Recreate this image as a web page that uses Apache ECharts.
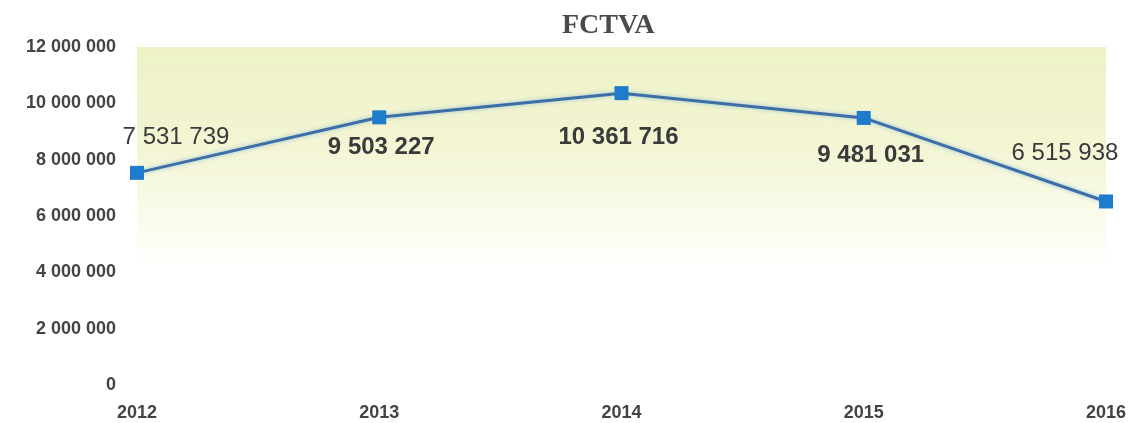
<!DOCTYPE html>
<html>
<head>
<meta charset="utf-8">
<script src="https://cdn.jsdelivr.net/npm/echarts@6/dist/echarts.min.js"></script>
<style>
  html, body { margin: 0; padding: 0; background: #fff; }
  #chart { width: 1129px; height: 423px; }
</style>
</head>
<body>
<div id="chart"></div>
<script>
// données FCTVA
var years = ['2012', '2013', '2014', '2015', '2016'];
var fctva = [7531739, 9503227, 10361716, 9481031, 6515938];
var yTicks = [0, 2000000, 4000000, 6000000, 8000000, 10000000, 12000000];

// label placement per point (offset from marker)
var labelOffsets = [[39, -35], [2, 30], [-3, 44], [7, 37], [-41, -48]];
var labelBold = [false, true, true, true, false];

function fmt(v) {
  return String(v).replace(/\B(?=(\d{3})+(?!\d))/g, ' ');
}

var chart = echarts.init(document.getElementById('chart'));

var option = {
  backgroundColor: '#fff',
  title: {
    text: 'FCTVA',
    left: 557,
    top: 7,
    textStyle: {
      fontFamily: 'Liberation Serif, Times New Roman, serif',
      fontWeight: 'bold',
      fontSize: 28,
      color: '#4a4a4a'
    }
  },
  grid: {
    left: 137,
    right: 22,
    top: 47,
    bottom: 38,
    show: true,
    borderWidth: 0,
    backgroundColor: new echarts.graphic.LinearGradient(0, 0, 0, 1, [
      { offset: 0, color: '#eef2c6' },
      { offset: 0.3, color: '#f3f5d4' },
      { offset: 0.5, color: '#fafbeb' },
      { offset: 0.66, color: '#ffffff' },
      { offset: 1, color: '#ffffff' }
    ])
  },
  xAxis: {
    type: 'category',
    data: years,
    boundaryGap: false,
    axisLine: { show: false },
    axisTick: { show: false },
    axisLabel: {
      margin: 19,
      fontFamily: 'Liberation Sans, Arial, sans-serif',
      fontWeight: 'bold',
      fontSize: 18,
      color: '#444'
    }
  },
  yAxis: {
    type: 'value',
    min: yTicks[0],
    max: yTicks[yTicks.length - 1],
    interval: 2000000,
    splitLine: { show: false },
    axisLine: { show: false },
    axisTick: { show: false },
    axisLabel: {
      margin: 21,
      fontFamily: 'Liberation Sans, Arial, sans-serif',
      fontWeight: 'bold',
      fontSize: 18,
      color: '#444',
      formatter: function (v) { return fmt(v); }
    }
  },
  series: [
    {
      name: 'FCTVA',
      type: 'line',
      data: fctva.map(function (v, i) {
        return {
          value: v,
          label: {
            offset: labelOffsets[i],
            fontWeight: labelBold[i] ? 'bold' : 'normal'
          }
        };
      }),
      symbol: 'rect',
      symbolSize: 14,
      lineStyle: {
        color: '#3d6fa6',
        width: 3,
        shadowColor: 'rgba(90,160,220,0.6)',
        shadowBlur: 4
      },
      itemStyle: {
        color: '#1f7ccc'
      },
      label: {
        show: true,
        position: 'inside',
        fontFamily: 'Liberation Sans, Arial, sans-serif',
        fontSize: 24,
        color: '#3a3a3a',
        formatter: function (p) { return fmt(p.value); }
      }
    }
  ]
};

chart.setOption(option);
</script>
</body>
</html>
